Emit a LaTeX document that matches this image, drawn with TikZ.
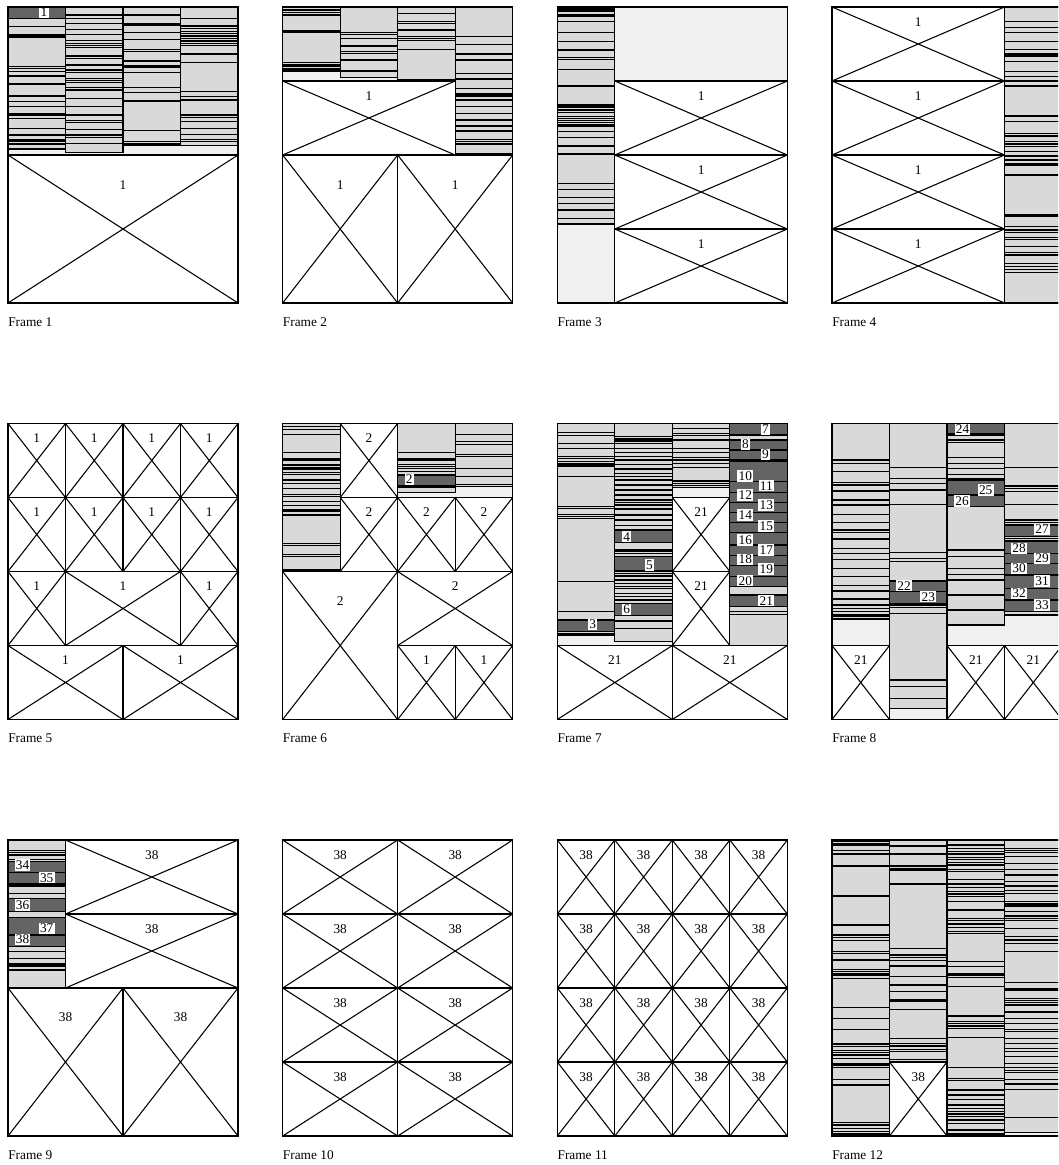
\documentclass[tikz,border=0pt]{standalone}
\usepackage{fontspec}
\setmainfont{Liberation Serif}
\definecolor{stripegray}{RGB}{217,217,217}
\definecolor{bggray}{RGB}{240,240,240}
\definecolor{darkgray}{RGB}{100,100,100}
\tikzset{
  stripeline/.style={line width=0.9pt},
  boxline/.style={line width=0.8pt},
  whitelab/.style={fill=white, inner sep=0.9pt},
  boxlab/.style={inner sep=0pt},
  frametitle/.style={anchor=west, inner sep=0pt}
}
% crossed box: x1 y1 x2 y2 label
\newcommand\myX[5]{%
  \filldraw[boxline, fill=white] (#1,#2) rectangle (#3,#4);
  \draw[boxline] (#1,#2) -- (#3,#4) (#1,#4) -- (#3,#2);
  \node[boxlab] at ({(#1+#3)/2},{#2+0.2*(#4-#2)}) {#5};}
% striped column: x1 x2 ytop ybot {list}
\newcommand\myS[5]{%
  \fill[stripegray] (#1,#3) rectangle (#2,#4);
  \foreach \yy in {#5} {\draw[stripeline] (#1,\yy) -- (#2,\yy);}
  \draw[stripeline] (#1,#3) rectangle (#2,#4);}
% dark block: x1 x2 y1 y2
\newcommand\myD[4]{\filldraw[stripeline, fill=darkgray] (#1,#3) rectangle (#2,#4);}
% white label
\newcommand\myL[3]{\node[whitelab] at (#1,#2) {#3};}
\begin{document}
\begin{tikzpicture}[x=0.75pt,y=-0.75pt]
\useasboundingbox (0,0) rectangle (1058,1165);
\clip (0,0) rectangle (1058,1165);
\fill[white] (0,0) rectangle (1058,1165);

% ---------------- Frame 1
\begin{scope}[shift={(8,0)}]
\fill[bggray] (0,7) rectangle (230,155);
\myS{0}{57.5}{7}{149}{18.3, 26.7, 34.3, 36, 37.7, 66.7, 68.3, 71.7, 76, 84, 96, 101.7, 106.7, 113.3, 115, 118.3, 128.3, 135, 140, 141.7, 144}
\myD{0}{57.5}{7}{18.3}
\myL{36}{12}{1}
\myS{57.5}{115}{7}{152.3}{15, 18.3, 23.3, 29.3, 34.3, 40.7, 43.3, 45.7, 47.3, 56, 58.3, 65, 70, 72.3, 78.3, 80.7, 82.3, 87.3, 90, 98.3, 106.7, 115, 120.7, 122.7, 129.3, 135, 137.7, 143.3}
\myS{115}{172.5}{7}{145}{15, 23.3, 25, 32.3, 39.3, 49.3, 51.7, 61, 66, 67.7, 72.7, 87.3, 92.7, 101, 130.7, 141.7, 143.3}
\myS{172.5}{230}{7}{145.7}{18.3, 26, 28.3, 31.7, 33.3, 36, 38.3, 41, 43.3, 45.7, 54, 62.3, 91.7, 96.7, 100, 115, 117.3, 121.7, 128.3, 134.3, 139.3, 141.7}
\myX{0}{155}{230}{303}{1}
\draw[boxline] (0,7) rectangle (230,303);
\node[frametitle] (t1) at (0,322) {Frame 1};
\end{scope}

% ---------------- Frame 2
\begin{scope}[shift={(282.67,0)}]
\fill[bggray] (0,7) rectangle (172.5,81);
\myS{0}{57.5}{7}{71}{10, 12.7, 15, 31, 32.7, 62.7, 65, 66.7, 69}
\myS{57.5}{115}{7}{77.3}{32.7, 34.3, 38.3, 46, 51.7, 53.3, 60, 71}
\myS{115}{172.5}{7}{79.3}{13.3, 21.7, 23.3, 30, 36.7, 38.3, 40.7, 49.3}
\myS{172.5}{230}{7}{154}{36.7, 44.3, 54, 60, 73.3, 79, 88.3, 93.3, 95, 96.7, 100, 106.7, 113.3, 120, 126, 131, 139.3, 141.7, 144}
\myX{0}{81}{172.5}{155}{1}
\myX{0}{155}{115}{303}{1}
\myX{115}{155}{230}{303}{1}
\draw[boxline] (0,7) rectangle (230,303);
\node[frametitle] (t2) at (0,322) {Frame 2};
\end{scope}

% ---------------- Frame 3
\begin{scope}[shift={(557.33,0)}]
\fill[bggray] (0,7) rectangle (230,303);
\myS{0}{57.5}{7}{224}{8.3, 10, 11.7, 15, 16.7, 21.7, 32.7, 41.7, 50, 57.3, 59.3, 69.3, 86, 104.3, 106, 107.7, 110, 112.7, 116.7, 118.3, 120.7, 122.7, 125, 126.7, 131.7, 137.3, 146, 154, 183.3, 189.3, 197.3, 203.3, 210, 218.3}
\myX{57.5}{81}{230}{155}{1}
\myX{57.5}{155}{230}{229}{1}
\myX{57.5}{229}{230}{303}{1}
\draw[boxline] (0,7) rectangle (230,303);
\node[frametitle] (t3) at (0,322) {Frame 3};
\end{scope}

% ---------------- Frame 4
\begin{scope}[shift={(832,0)}]
\myX{0}{7}{172.5}{81}{1}
\myX{0}{81}{172.5}{155}{1}
\myX{0}{155}{172.5}{229}{1}
\myX{0}{229}{172.5}{303}{1}
\myS{172.5}{230}{7}{303}{21.7, 27.3, 32.7, 41.7, 49.3, 54, 56, 61.7, 71.7, 76.7, 81, 86, 116, 121.7, 133.3, 136, 141.7, 144, 146.7, 151.7, 156, 160, 163.3, 165, 175, 215, 216.7, 226.7, 230, 232.7, 237.3, 239.3, 246.7, 252.7, 255, 263.3, 266.7, 269.3, 272.7}
\draw[boxline] (0,7) rectangle (230,303);
\node[frametitle] (t4) at (0,322) {Frame 4};
\end{scope}

% ---------------- Frame 5
\begin{scope}[shift={(8,0)}]
\foreach \c in {0,57.5,115,172.5} {
  \myX{\c}{423.5}{\c+57.5}{497.5}{1}
  \myX{\c}{497.5}{\c+57.5}{571.5}{1}
}
\myX{0}{571.5}{57.5}{645.5}{1}
\myX{57.5}{571.5}{172.5}{645.5}{1}
\myX{172.5}{571.5}{230}{645.5}{1}
\myX{0}{645.5}{115}{719.5}{1}
\myX{115}{645.5}{230}{719.5}{1}
\draw[boxline] (0,423.5) rectangle (230,719.5);
\node[frametitle] (t5) at (0,738) {Frame 5};
\end{scope}

% ---------------- Frame 6
\begin{scope}[shift={(282.67,0)}]
\fill[bggray] (0,423.5) rectangle (230,719.5);
\myS{0}{57.5}{423.5}{570}{426.7, 429.3, 434.3, 452.3, 458.3, 460, 465, 467.3, 469, 472.3, 474.3, 480, 483.3, 488.3, 494.3, 496.7, 501.7, 505.7, 510, 511.7, 515, 543.3, 545.7, 554.3, 556.7}
\myX{57.5}{423.5}{115}{497.5}{2}
\myS{115}{172.5}{423.5}{492.3}{452.3, 458.3, 460, 464.3, 466.7, 468.3, 471.7, 474.3, 487.3}
\myD{115}{172.5}{475}{486}
\myL{126.6}{479.5}{2}
\myS{172.5}{230}{423.5}{486.7}{434.3, 441.7, 444.3, 454.3, 456.7, 468.3, 476.7, 484.3}
\myX{57.5}{497.5}{115}{571.5}{2}
\myX{115}{497.5}{172.5}{571.5}{2}
\myX{172.5}{497.5}{230}{571.5}{2}
\myX{0}{571.5}{115}{719.5}{2}
\myX{115}{571.5}{230}{645.5}{2}
\myX{115}{645.5}{172.5}{719.5}{1}
\myX{172.5}{645.5}{230}{719.5}{1}
\draw[boxline] (0,423.5) rectangle (230,719.5);
\node[frametitle] (t6) at (0,738) {Frame 6};
\end{scope}

% ---------------- Frame 7
\begin{scope}[shift={(557.33,0)}]
\fill[bggray] (0,423.5) rectangle (230,719.5);
\myS{0}{57.5}{423.5}{635}{432.3, 435.7, 443.3, 448.3, 456.7, 458.3, 461.7, 463.3, 465, 466.7, 476.7, 506.7, 508.3, 514.3, 516.7, 518.3, 581.7, 611.7, 633.3}
\myD{0}{57.5}{620}{631.7}
\myL{35.4}{624.5}{3}
\myS{57.5}{115}{423.5}{641.7}{436.7, 439, 441, 443.3, 448.3, 452.3, 456.7, 460, 464.3, 469, 473.3, 476.7, 480, 485, 490, 495, 500, 502.3, 505, 509, 515, 520, 525.7, 550, 551.7, 553.3, 573.3, 576, 580, 583.3, 586.7, 588.3, 593.3, 596.7, 600, 621, 628.3}
\myD{57.5}{115}{530}{542.7}
\myD{57.5}{115}{556.7}{571}
\myD{57.5}{115}{603.3}{615.7}
\myL{69.4}{536.7}{4}
\myL{92}{565}{5}
\myL{69.4}{609.3}{6}
\myS{115}{172.5}{423.5}{487.7}{428.3, 433.3, 435.7, 440, 448.3, 452.3, 457.7, 460, 463.3, 467.7, 481, 483.3, 485.7}
\myX{115}{497.5}{172.5}{571.5}{21}
\myX{115}{571.5}{172.5}{645.5}{21}
\myS{172.5}{230}{423.5}{645.5}{611.7, 614.3}
\foreach \ya/\yb in {423.5/435, 440/450, 450/460, 461.7/481.7, 481.7/492.3, 492.3/502.3, 502.3/512.3, 512.3/522.3, 522.3/532.3, 532.3/545, 545/555.7, 555.7/565.7, 565.7/576.7, 576.7/586.7, 595/606.7} {\myD{172.5}{230}{\ya}{\yb}}
\foreach \lx/\ly/\lt in {208/429/7, 188/444.3/8, 208/454.3/9, 188/476/10, 209/485.7/11, 188/495/12, 209/505/13, 188/515/14, 209/526/15, 188/540/16, 209/550/17, 188/559.3/18, 209/569/19, 188/580.7/20, 209/600.7/21} {\myL{\lx}{\ly}{\lt}}
\myX{0}{645.5}{115}{719.5}{21}
\myX{115}{645.5}{230}{719.5}{21}
\draw[boxline] (0,423.5) rectangle (230,719.5);
\node[frametitle] (t7) at (0,738) {Frame 7};
\end{scope}

% ---------------- Frame 8
\begin{scope}[shift={(832,0)}]
\fill[bggray] (0,423.5) rectangle (230,719.5);
\myS{0}{57.5}{423.5}{619}{460, 463.3, 471.7, 482.7, 485, 491, 500, 505, 514.3, 522.3, 530, 532.3, 539, 548.3, 553.3, 559.3, 568.3, 576.7, 585.7, 591, 599, 605, 608.3, 611.7, 615, 616.7}
\myX{0}{645.5}{57.5}{719.5}{21}
\myS{57.5}{115}{423.5}{708.3}{467.7, 478.3, 483.3, 490, 504.3, 552.3, 558.3, 561.7, 605, 607.7, 613.3, 680, 686.7, 698.3}
\myD{57.5}{115}{581}{591.7}
\myD{57.5}{115}{591.7}{603.3}
\myL{72}{585.7}{22}
\myL{96.3}{596.7}{23}
\myS{115}{172.5}{423.5}{625}{435, 440, 442.3, 457.7, 463.3, 468.3, 474.3, 479, 550, 556.7, 568.3, 574.3, 580, 595, 610}
\myD{115}{172.5}{423.5}{434}
\myD{115}{172.5}{480.7}{495}
\myD{115}{172.5}{495}{506.7}
\myL{130.5}{429}{24}
\myL{153.7}{490}{25}
\myL{130}{501}{26}
\myS{172.5}{230}{423.5}{615}{467.7, 486, 488.3, 491.7, 504.3, 520, 522.3, 538.3}
\foreach \ya/\yb in {525/536.7, 541/553.3, 553.3/563.3, 563.3/575, 575/588.3, 588.3/600, 600/611.7} {\myD{172.5}{230}{\ya}{\yb}}
\foreach \lx/\ly/\lt in {210/529.3/27, 187/548.3/28, 210/558.3/29, 187/568.3/30, 210/581/31, 187/593.3/32, 210/605/33} {\myL{\lx}{\ly}{\lt}}
\myX{115}{645.5}{172.5}{719.5}{21}
\myX{172.5}{645.5}{230}{719.5}{21}
\draw[boxline] (0,423.5) rectangle (230,719.5);
\node[frametitle] (t8) at (0,738) {Frame 8};
\end{scope}

% ---------------- Frame 9
\begin{scope}[shift={(8,0)}]
\myS{0}{57.5}{840}{988}{850.7, 852.7, 855, 859.3, 885, 886.7, 893.3, 951.7, 958.3, 963.3, 965, 966.7, 970}
\foreach \ya/\yb in {861.7/872.7, 872.7/883.3, 898.3/911.7, 917.3/935, 935/946.7} {\myD{0}{57.5}{\ya}{\yb}}
\foreach \lx/\ly/\lt in {14.5/865/34, 38.7/877.7/35, 14.5/905/36, 38.7/928.3/37, 14.5/939.3/38} {\myL{\lx}{\ly}{\lt}}
\myX{57.5}{840}{230}{914}{38}
\myX{57.5}{914}{230}{988}{38}
\myX{0}{988}{115}{1136}{38}
\myX{115}{988}{230}{1136}{38}
\draw[boxline] (0,840) rectangle (230,1136);
\node[frametitle] (t9) at (0,1155.5) {Frame 9};
\end{scope}

% ---------------- Frame 10
\begin{scope}[shift={(282.67,0)}]
\foreach \r in {840,914,988,1062} {
  \myX{0}{\r}{115}{\r+74}{38}
  \myX{115}{\r}{230}{\r+74}{38}
}
\draw[boxline] (0,840) rectangle (230,1136);
\node[frametitle] (t10) at (0,1155.5) {Frame 10};
\end{scope}

% ---------------- Frame 11
\begin{scope}[shift={(557.33,0)}]
\foreach \r in {840,914,988,1062} {
  \foreach \c in {0,57.5,115,172.5} {
    \myX{\c}{\r}{\c+57.5}{\r+74}{38}
  }
}
\draw[boxline] (0,840) rectangle (230,1136);
\node[frametitle] (t11) at (0,1155.5) {Frame 11};
\end{scope}

% ---------------- Frame 12
\begin{scope}[shift={(832,0)}]
\fill[bggray] (0,840) rectangle (230,1136);
\myS{0}{57.5}{840}{1136}{841.7, 843.3, 845, 850.7, 854, 866, 896, 925, 935, 937.3, 940.7, 951.7, 953.3, 960, 969.3, 971.7, 973.3, 975, 978.3, 1007.3, 1018.3, 1029.3, 1044, 1046.7, 1050.7, 1052.7, 1055, 1058.3, 1063.3, 1065, 1067.3, 1079.3, 1085, 1122.7, 1125, 1128.3, 1131.7, 1134}
\myS{57.5}{115}{840}{1062}{846, 854, 866, 868.3, 870, 884, 948.3, 955, 957.3, 960.7, 966, 976.7, 985, 991.7, 1000, 1001.7, 1009.3, 1038.3, 1043.3, 1046, 1049.3, 1051.7, 1059.3}
\myX{57.5}{1062}{115}{1136}{38}
\myS{115}{172.5}{840}{1134}{845, 848.3, 851.7, 854, 857.3, 859.3, 862.7, 865, 869.3, 871.7, 879.3, 884, 887.3, 891.7, 894, 896.7, 901.7, 910, 918.3, 920.7, 924, 927.3, 931.7, 933.3, 961.7, 966.7, 973.3, 975, 977.3, 986.7, 1016, 1021.7, 1023.3, 1026, 1028.3, 1037.3, 1067.3, 1078.3, 1080.7, 1090, 1095, 1099.3, 1105, 1108.3, 1111.7, 1114, 1116.7, 1120, 1123.3, 1130}
\myS{172.5}{230}{840}{1132.7}{848.3, 850.7, 852.7, 856.7, 863.3, 869.3, 875, 881.7, 886, 890.7, 893.3, 901.7, 904, 906, 911.7, 916, 918.3, 920.7, 928.3, 936.7, 940, 943.3, 951.7, 982.7, 988.3, 990, 998.3, 1000.7, 1002.7, 1005, 1011.7, 1012.7, 1018.3, 1023.3, 1029.3, 1031.7, 1038.3, 1043.3, 1048.3, 1051.7, 1056.7, 1063.3, 1067.3, 1070.7, 1072.7, 1079.3, 1084, 1089.3, 1117.3}
\draw[boxline] (0,840) rectangle (230,1136);
\node[frametitle] (t12) at (0,1155.5) {Frame 12};
\end{scope}
\end{tikzpicture}
\end{document}
